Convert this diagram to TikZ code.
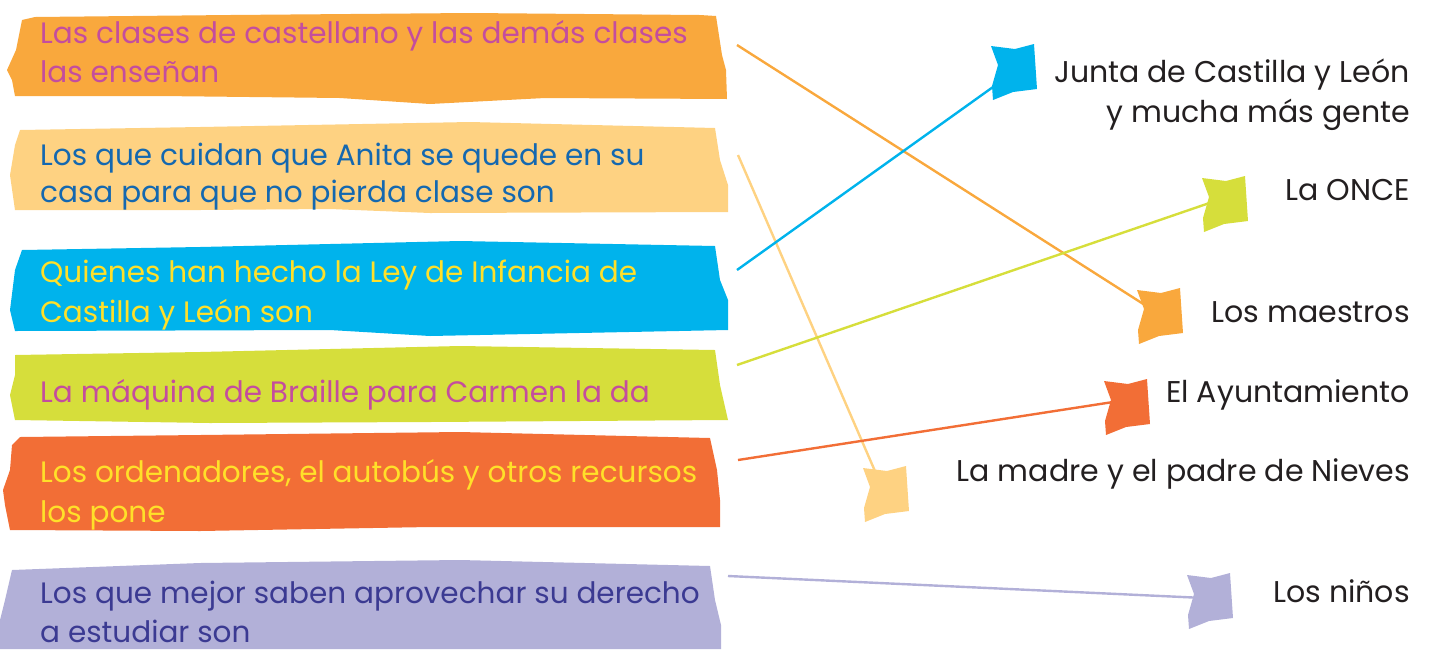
\documentclass[tikz,border=0pt]{standalone}
\usepackage{fontspec}
\setmainfont{Poppins}
\definecolor{cOra}{HTML}{F9A83D}
\definecolor{cLor}{HTML}{FED282}
\definecolor{cCya}{HTML}{00B3EC}
\definecolor{cLim}{HTML}{D6DE3B}
\definecolor{cRed}{HTML}{F26E36}
\definecolor{cLav}{HTML}{B2B0D8}
\definecolor{tMag}{HTML}{C44D9E}
\definecolor{tBlu}{HTML}{1468B0}
\definecolor{tYel}{HTML}{FFE029}
\definecolor{tDbl}{HTML}{3B3A92}
\definecolor{tDrk}{HTML}{231F20}
\begin{document}
\begin{tikzpicture}[x=1pt,y=-1pt,
  lefttext/.style={anchor=base west,inner sep=0pt,font=\fontsize{29.5}{39}\selectfont},
  righttext/.style={anchor=base east,inner sep=0pt,text=tDrk,font=\fontsize{30}{39}\selectfont},
  link/.style={line width=2.4pt},
  flag/.pic={\fill[pic actions] (-23,-26) -- (1,-23) -- (20,-28) -- (23,17) -- (-1,20) -- (-21,28) -- (-22,14) -- (-16,-7) -- cycle;}]
\useasboundingbox (0,0) rectangle (1430,649);
% left boxes
\fill[cOra] (22,20) -- (35,17) -- (230,15) -- (470,13) -- (700,15) -- (716,16) -- (722,55) -- (726,70) -- (727,99) -- (545,98) -- (430,104) -- (340,98) -- (160,96) -- (15,96) -- (12,80) -- (7,70) -- (16,50) -- cycle;
\fill[cLor] (20,130) -- (200,127) -- (470,122) -- (715,128) -- (720,160) -- (728,185) -- (728,212) -- (430,213) -- (330,209) -- (200,210) -- (15,210) -- (10,175) -- (15,145) -- cycle;
\fill[cCya] (22,250) -- (200,247) -- (460,241) -- (715,246) -- (720,280) -- (728,300) -- (728,330) -- (430,336) -- (330,330) -- (15,331) -- (10,310) -- (15,270) -- cycle;
\fill[cLim] (15,355) -- (200,352) -- (460,346) -- (715,350) -- (720,385) -- (728,420) -- (430,422) -- (210,423) -- (15,420) -- (10,395) -- (15,375) -- cycle;
\fill[cRed] (12,445) -- (20,437) -- (200,435) -- (460,432) -- (710,438) -- (717,470) -- (720,500) -- (720,527) -- (430,527) -- (200,531) -- (10,530) -- (5,505) -- (3,490) -- (10,470) -- cycle;
\fill[cLav] (12,570) -- (200,563) -- (460,560) -- (710,566) -- (715,600) -- (721,625) -- (721,649) -- (0,649) -- (0,620) -- (5,600) -- cycle;
% left texts
\node[lefttext,text=tMag] (a1) at (40,43) {Las clases de castellano y las demás clases};
\node[lefttext,text=tMag] (a2) at (40,82) {las enseñan};
\node[lefttext,text=tBlu] (b1) at (40,165) {Los que cuidan que Anita se quede en su};
\node[lefttext,text=tBlu] (b2) at (40,202) {casa para que no pierda clase son};
\node[lefttext,text=tYel] (c1) at (40,282) {Quienes han hecho la Ley de Infancia de};
\node[lefttext,text=tYel] (c2) at (40,322) {Castilla y León son};
\node[lefttext,text=tMag] (d1) at (40,402) {La máquina de Braille para Carmen la da};
\node[lefttext,text=tYel] (e1) at (40,482) {Los ordenadores, el autobús y otros recursos};
\node[lefttext,text=tYel] (e2) at (40,522) {los pone};
\node[lefttext,text=tDbl] (f1) at (40,603) {Los que mejor saben aprovechar su derecho};
\node[lefttext,text=tDbl] (f2) at (40,642) {a estudiar son};
% right texts
\node[righttext] (r1) at (1410,82) {Junta de Castilla y León};
\node[righttext] (r1b) at (1410,122) {y mucha más gente};
\node[righttext] (r2) at (1410,200) {La ONCE};
\node[righttext] (r3) at (1410,322) {Los maestros};
\node[righttext] (r4) at (1410,402) {El Ayuntamiento};
\node[righttext] (r5) at (1410,481) {La madre y el padre de Nieves};
\node[righttext] (r6) at (1410,602) {Los niños};
% flags
\pic[fill=cCya] at (1014,72) {flag};
\pic[fill=cLim] at (1225,204) {flag};
\pic[fill=cOra] at (1160,316) {flag};
\pic[fill=cRed] at (1127,407) {flag};
\pic[fill=cLor] at (886,494) {flag};
\pic[fill=cLav] at (1210,601) {flag};
% connector ends
\coordinate (s1) at (737,45);   \coordinate (e3) at (1148,307);
\coordinate (s2) at (738,155);  \coordinate (e5) at (881,485);
\coordinate (s3) at (737,270);  \coordinate (e1) at (993,87);
\coordinate (s4) at (737,365);  \coordinate (e2) at (1224,198);
\coordinate (s5) at (738,460);  \coordinate (e4) at (1126,400);
\coordinate (s6) at (728,576);  \coordinate (e6) at (1204,598);
\draw[link,cOra] (s1) -- (e3);
\draw[link,cLor] (s2) -- (e5);
\draw[link,cCya] (s3) -- (e1);
\draw[link,cLim] (s4) -- (e2);
\draw[link,cRed] (s5) -- (e4);
\draw[link,cLav] (s6) -- (e6);
\end{tikzpicture}
\end{document}
